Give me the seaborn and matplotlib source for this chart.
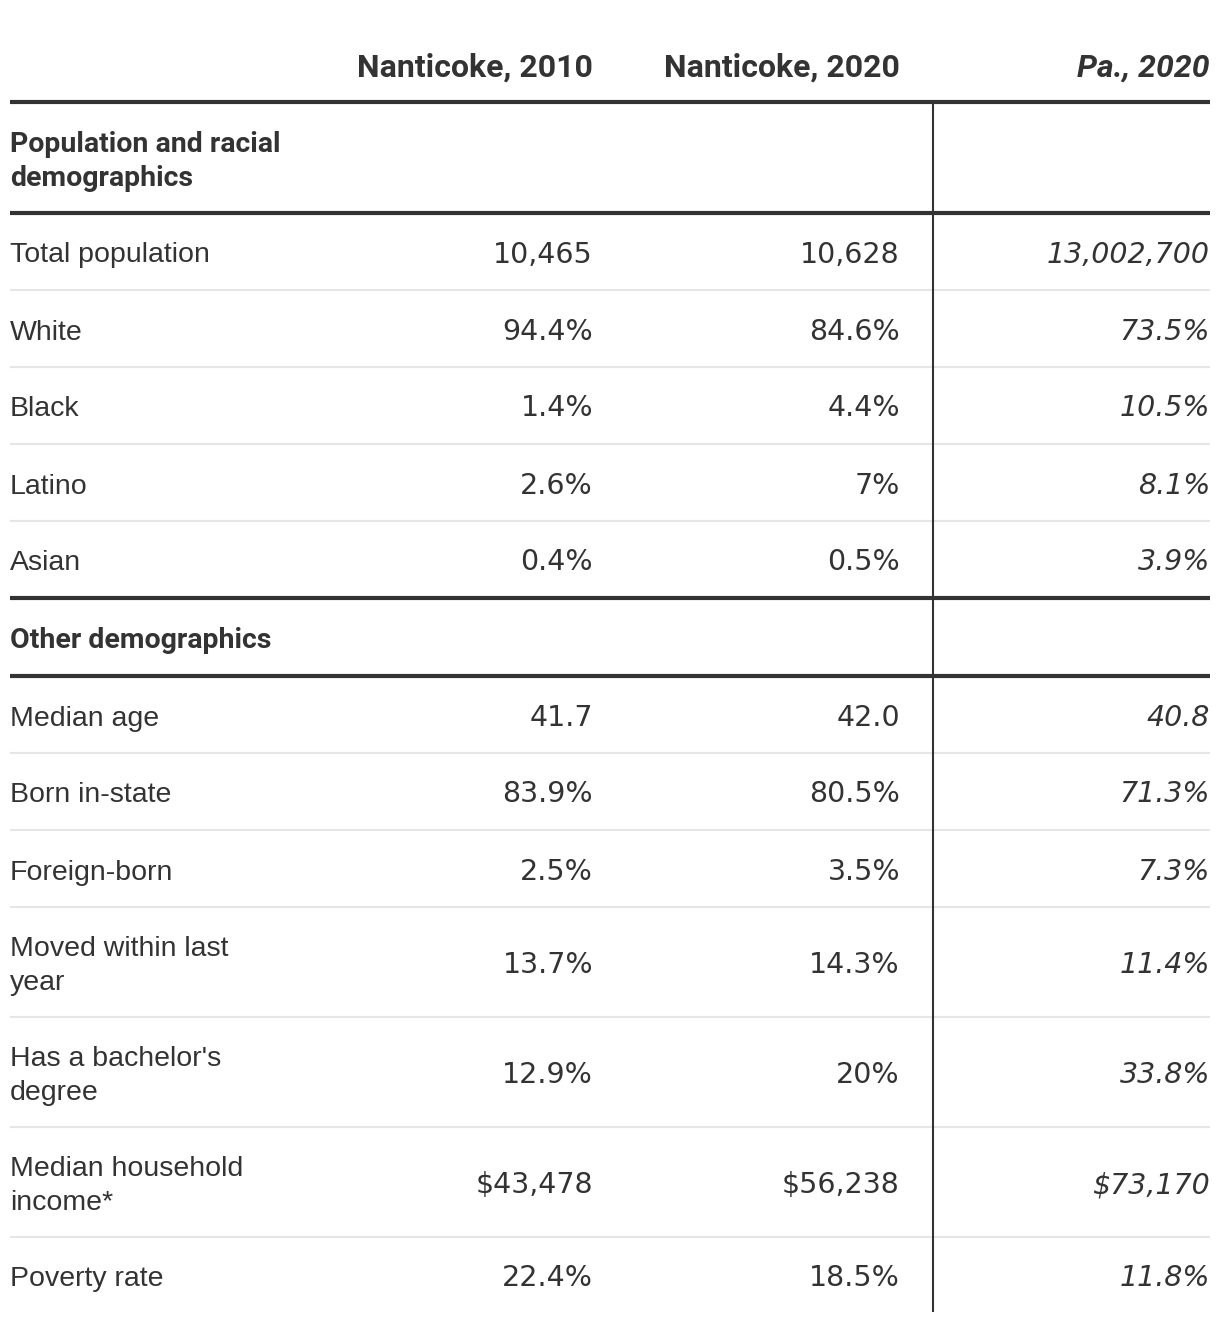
import numpy as np
import pandas as pd
import matplotlib.pyplot as plt
import seaborn as sns

# table content
columns = ['Nanticoke, 2010', 'Nanticoke, 2020', 'Pa., 2020']
sections = ['Population and racial\ndemographics', 'Other demographics']
labels = [
    ['Total population', 'White', 'Black', 'Latino', 'Asian'],
    ['Median age', 'Born in-state', 'Foreign-born', 'Moved within last\nyear',
     "Has a bachelor's\ndegree", 'Median household\nincome*', 'Poverty rate'],
]
nanticoke_2010 = ['10,465', '94.4%', '1.4%', '2.6%', '0.4%',
                  '41.7', '83.9%', '2.5%', '13.7%', '12.9%', '$43,478', '22.4%']
nanticoke_2020 = ['10,628', '84.6%', '4.4%', '7%', '0.5%',
                  '42.0', '80.5%', '3.5%', '14.3%', '20%', '$56,238', '18.5%']
pa_2020 = ['13,002,700', '73.5%', '10.5%', '8.1%', '3.9%',
           '40.8', '71.3%', '7.3%', '11.4%', '33.8%', '$73,170', '11.8%']

sns.set_theme(style='white')
plt.rcParams['font.family'] = ['Liberation Sans', 'DejaVu Sans']

TXT = '#333333'
col_right = [593, 900, 1210]
left, right, vline_x = 10, 1210, 933
LS = 34  # line step in px


def put(ax, x, yc, s, **kw):
    # draw (possibly multi-line) text vertically centred on yc, line by line
    lines = s.split('\n')
    n = len(lines)
    for i, ln in enumerate(lines):
        ax.text(x, yc + 11 + (i - (n - 1) / 2) * LS, ln, va='baseline', color=TXT, **kw)


fig = plt.figure(figsize=(12.2, 13.22), dpi=100)
ax = fig.add_axes([0, 0, 1, 1])
ax.set_xlim(0, 1220)
ax.set_ylim(1322, 0)
ax.axis('off')

# header
for name, xr in zip(columns, col_right):
    ax.text(xr, 77, name, ha='right', va='baseline', fontsize=23, fontweight='bold',
            color=TXT, style='italic' if name.startswith('Pa.') else 'normal',
            family='Roboto')

y = 102
values = list(zip(nanticoke_2010, nanticoke_2020, pa_2020))
k = 0
for sec, labs in zip(sections, labels):
    ax.hlines(y, left, right, color=TXT, lw=3)
    h = 111 if '\n' in sec else 78
    put(ax, left, y + h / 2, sec, ha='left', fontsize=20.5, fontweight='bold', family='Roboto')
    y += h
    ax.hlines(y, left, right, color=TXT, lw=3)
    for i, lab in enumerate(labs):
        h = 110 if '\n' in lab else 77
        yc = y + h / 2
        put(ax, left, yc, lab, ha='left', fontsize=20.5)
        for j, (v, xr) in enumerate(zip(values[k], col_right)):
            put(ax, xr, yc, v, ha='right', fontsize=20.5, family='DejaVu Sans',
                style='italic' if j == 2 else 'normal')
        y += h
        k += 1
        if i < len(labs) - 1:
            ax.hlines(y, left, right, color='#e6e6e6', lw=1.5, zorder=0)

ax.vlines(vline_x, 102, 1312, color=TXT, lw=1.5)

fig.savefig('out.png', dpi=100)
